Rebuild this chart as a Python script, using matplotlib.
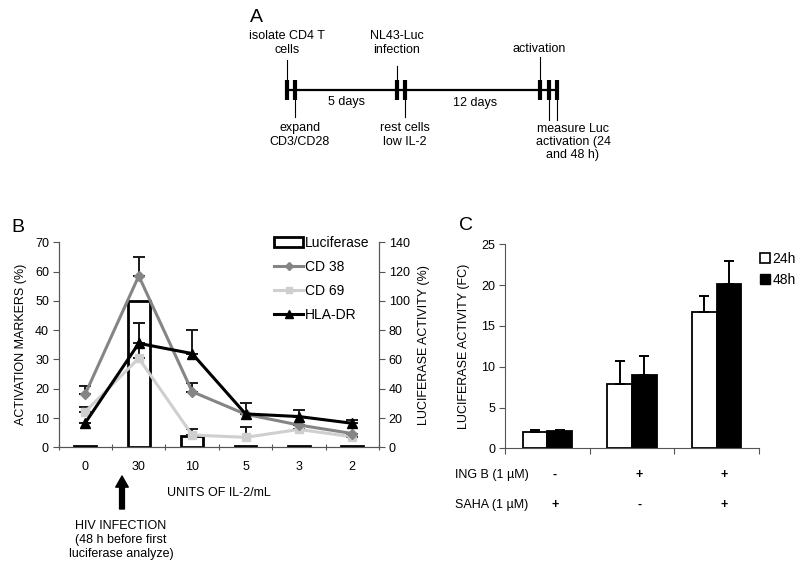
import matplotlib
matplotlib.use("Agg")
import matplotlib.pyplot as plt
import numpy as np
from matplotlib.patches import Patch
from matplotlib.lines import Line2D

plt.rcParams['font.family'] = ['Liberation Sans', 'DejaVu Sans']
plt.rcParams['font.size'] = 9

# ---------------- data: panel B ----------------
il2_labels = ["0", "30", "10", "5", "3", "2"]
luciferase = [1.0, 100.0, 7.5, 1.2, 0.8, 0.8]          # right axis (%)
cd38 = [18.3, 58.5, 19.0, 11.3, 7.6, 4.7]
cd38_err = [2.5, 6.5, 3.0, 0.0, 0.0, 0.0]
cd69 = [12.2, 30.4, 4.2, 3.4, 6.1, 3.6]
cd69_err = [1.7, 12.0, 2.0, 3.5, 0.0, 0.0]
hladr = [8.4, 35.5, 32.0, 11.4, 10.5, 8.2]
hladr_err = [0.0, 7.0, 8.0, 3.6, 2.3, 1.1]

# ---------------- data: panel C ----------------
c_groups = ["1", "2", "3"]
c_24h = [2.0, 7.9, 16.7]
c_24h_err = [0.2, 2.8, 2.0]
c_48h = [2.1, 9.0, 20.1]
c_48h_err = [0.2, 2.3, 2.9]
ingb_signs = ["-", "+", "+"]
saha_signs = ["+", "-", "+"]

W, H = 800, 567
fig = plt.figure(figsize=(8, 5.67), dpi=100)

def px_axes(x0, y_top, x1, y_bot):
    return fig.add_axes([x0 / W, 1 - y_bot / H, (x1 - x0) / W, (y_bot - y_top) / H])

# ---------------- overlay axes (pixel space) for panel A & annotations ----------------
ov = fig.add_axes([0, 0, 1, 1])
ov.set_xlim(0, W)
ov.set_ylim(H, 0)
ov.axis('off')
ov.patch.set_visible(False)

# Panel A schematic
ov.text(250, 17, "A", fontsize=14, ha='left', va='center')
ov.plot([287, 557], [90, 90], color='black', lw=1.6, solid_capstyle='butt')
for xm in [287, 295, 397, 404.5, 539.5, 548.5, 557]:
    ov.plot([xm, xm], [80, 100], color='black', lw=3.0, solid_capstyle='butt')
# connectors up
for xm, ytop in [(287, 60), (397, 66), (539.5, 57)]:
    ov.plot([xm, xm], [ytop, 80], color='black', lw=0.8)
# connectors down
for xm, ybot in [(295, 117), (404.5, 117), (548.5, 120), (557, 120)]:
    ov.plot([xm, xm], [100, ybot], color='black', lw=0.8)
ov.text(287, 43, "isolate CD4 T\ncells", ha='center', va='center', linespacing=1.15)
ov.text(300, 135, "expand\nCD3/CD28", ha='center', va='center', linespacing=1.15)
ov.text(347, 102, "5 days", ha='center', va='center')
ov.text(397, 43, "NL43-Luc\ninfection", ha='center', va='center', linespacing=1.15)
ov.text(405, 135, "rest cells\nlow IL-2", ha='center', va='center', linespacing=1.15)
ov.text(475, 103, "12 days", ha='center', va='center')
ov.text(539, 49, "activation", ha='center', va='center')
ov.text(573, 142, "measure Luc\nactivation (24\nand 48 h)", ha='center', va='center', linespacing=1.15)

# Panel letters
ov.text(18, 228, "B", fontsize=14, ha='center', va='center')
ov.text(466, 225, "C", fontsize=14, ha='center', va='center')

# HIV infection arrow + text
ov.annotate("", xy=(122, 476), xytext=(122, 509),
            arrowprops=dict(facecolor='black', edgecolor='black', width=3.5,
                            headwidth=9, headlength=8))
ov.text(121, 540, "HIV INFECTION\n(48 h before first\nluciferase analyze)",
        ha='center', va='center', linespacing=1.2)

# ---------------- panel B ----------------
axb = px_axes(58.7, 242.3, 379, 447.3)
axr = axb.twinx()
x = np.arange(len(il2_labels))

axr.bar(x, luciferase, width=0.41, facecolor='white', edgecolor='black', linewidth=2.0, zorder=1)
axr.set_ylim(0, 140)
axr.set_yticks(np.arange(0, 141, 20))

axb.set_zorder(axr.get_zorder() + 1)
axb.patch.set_visible(False)

ekw = dict(capsize=4, capthick=1.4, elinewidth=1.4, ecolor='#1a1a1a')
z = np.zeros(len(x))
axb.errorbar(x, cd69, yerr=[z, cd69_err], fmt='none', **ekw, zorder=2)
axb.errorbar(x, cd38, yerr=[z, cd38_err], fmt='none', **ekw, zorder=2)
axb.errorbar(x, hladr, yerr=[z, hladr_err], fmt='none', **ekw, zorder=2)
axb.plot(x, cd69, color='#cfcfcf', marker='s', ms=6, lw=2.2, zorder=3)
axb.plot(x, cd38, color='#858585', marker='D', ms=5, lw=2.2, zorder=4)
axb.plot(x, hladr, color='black', marker='^', ms=7, lw=2.2, zorder=5)

axb.set_xlim(-0.5, len(x) - 0.5)
axb.set_ylim(0, 70)
axb.set_yticks(np.arange(0, 71, 10))
axb.set_xticks(x)
axb.set_xticklabels(il2_labels)
axb.set_xticks(np.arange(-0.5, len(x) - 0.4, 1), minor=True)
axb.tick_params(axis='x', which='major', length=0, pad=10)
axb.tick_params(axis='x', which='minor', length=4, direction='inout', width=0.8, color='#555555')
axb.tick_params(axis='y', length=4, width=0.8, color='#555555', pad=3)
axr.tick_params(axis='y', length=4, width=0.8, color='#555555', pad=3)
for a in (axb, axr):
    a.spines['top'].set_visible(False)
    for s in ('left', 'right', 'bottom'):
        a.spines[s].set_color('#555555')
        a.spines[s].set_linewidth(0.8)
axb.set_xlabel("UNITS OF IL-2/mL", labelpad=10)
axb.set_ylabel("ACTIVATION MARKERS (%)", labelpad=6)
axr.set_ylabel("LUCIFERASE ACTIVITY (%)", labelpad=6)

handles = [Patch(facecolor='white', edgecolor='black', linewidth=2.0),
           Line2D([], [], color='#858585', marker='D', ms=4, lw=2.2),
           Line2D([], [], color='#cfcfcf', marker='s', ms=5, lw=2.2),
           Line2D([], [], color='black', marker='^', ms=6, lw=2.2)]
leg = axb.legend(handles, ["Luciferase", "CD 38", "CD 69", "HLA-DR"],
                 loc='upper left', bbox_to_anchor=(274 / W, 1 - 236 / H),
                 bbox_transform=fig.transFigure, frameon=False,
                 handlelength=2.1, handleheight=0.7, handletextpad=0.15,
                 labelspacing=0.72, borderpad=0, borderaxespad=0, fontsize=10)

# ---------------- panel C ----------------
axc = px_axes(505, 244.3, 759, 448.3)
xc = np.arange(len(c_groups))
bw = 0.29
axc.bar(xc - bw / 2, c_24h, width=bw, facecolor='white', edgecolor='black', linewidth=1.3,
        yerr=[np.zeros(3), c_24h_err], error_kw=dict(capsize=3.5, capthick=1.4, elinewidth=1.4))
axc.bar(xc + bw / 2, c_48h, width=bw, facecolor='black', edgecolor='black', linewidth=1.3,
        yerr=[np.zeros(3), c_48h_err], error_kw=dict(capsize=3.5, capthick=1.4, elinewidth=1.4))
axc.set_xlim(-0.5, len(xc) - 0.5)
axc.set_ylim(0, 25)
axc.set_yticks(np.arange(0, 26, 5))
axc.set_xticks(np.arange(-0.5, len(xc) - 0.4, 1))
axc.set_xticklabels([])
axc.tick_params(axis='x', length=4, direction='out', width=0.8, color='#555555')
axc.tick_params(axis='y', length=4, width=0.8, color='#555555', pad=3)
axc.spines['top'].set_visible(False)
axc.spines['right'].set_visible(False)
for s in ('left', 'bottom'):
    axc.spines[s].set_color('#555555')
    axc.spines[s].set_linewidth(0.8)
axc.set_ylabel("LUCIFERASE ACTIVITY (FC)", labelpad=8)

axc.legend([Patch(facecolor='white', edgecolor='black', linewidth=1.2),
            Patch(facecolor='black', edgecolor='black')],
           ["24h", "48h"], loc='upper left', bbox_to_anchor=(760 / W, 1 - 252 / H),
           bbox_transform=fig.transFigure, frameon=False, handlelength=0.7,
           handleheight=0.7, handletextpad=0.2, labelspacing=0.5, borderpad=0,
           borderaxespad=0, fontsize=10)

# treatment table under panel C
ov.text(455, 475, "ING B (1 µM)", ha='left', va='center')
ov.text(455, 505, "SAHA (1 µM)", ha='left', va='center')
for i in range(len(c_groups)):
    xpix = 505 + (i + 0.5 + 0.09) * (254 / 3)
    ov.text(xpix, 475, ingb_signs[i], ha='center', va='center', fontweight='bold')
    ov.text(xpix, 505, saha_signs[i], ha='center', va='center', fontweight='bold')

fig.savefig("out.png", dpi=100)
